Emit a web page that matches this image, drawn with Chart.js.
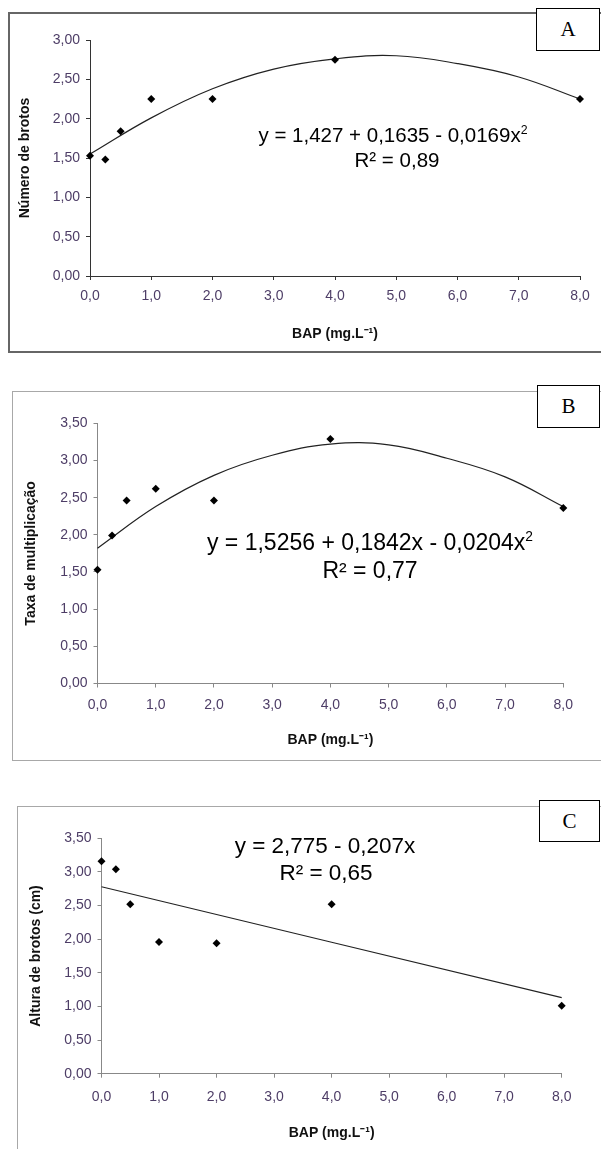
<!DOCTYPE html>
<html>
<head>
<meta charset="utf-8">
<script src="https://cdn.jsdelivr.net/npm/chart.js@4"></script>
<style>
body { margin:0; background:#fff; width:601px; height:1149px; overflow:hidden; position:relative; font-family:'Liberation Sans', Arial, sans-serif; }
.panel { position:absolute; border-style:solid; box-sizing:border-box; }
canvas { position:absolute; left:0; }
.tag { position:absolute; background:#fff; border:1.5px solid #000; box-sizing:border-box; font-family:'Liberation Serif','Times New Roman',serif; font-size:21px; display:flex; align-items:center; justify-content:center; }
.eq { position:absolute; transform:translate(-50%,-50%); white-space:nowrap; color:#000; line-height:1; }
.eq sup { font-size:0.6em; vertical-align:0.6em; line-height:0; }
</style>
</head>
<body>

<div class="panel" style="left:8px; top:12px; width:650px; height:341px; border-width:2px; border-color:#666;"></div>
<div class="panel" style="left:12px; top:391px; width:650px; height:370px; border-width:1.5px; border-color:#a8a8a8;"></div>
<div class="panel" style="left:17px; top:806px; width:650px; height:400px; border-width:1.5px; border-color:#a8a8a8;"></div>

<canvas id="chart-a"></canvas>
<canvas id="chart-b"></canvas>
<canvas id="chart-c"></canvas>

<div class="eq" style="left:393px; top:135px; font-size:20.5px;">y = 1,427 + 0,1635 - 0,0169x<sup>2</sup></div>
<div class="eq" style="left:397px; top:160px; font-size:20.5px;">R² = 0,89</div>
<div class="eq" style="left:370px; top:542px; font-size:23px;">y = 1,5256 + 0,1842x - 0,0204x<sup>2</sup></div>
<div class="eq" style="left:370px; top:570px; font-size:23px;">R² = 0,77</div>
<div class="eq" style="left:325px; top:846px; font-size:22.5px;">y = 2,775 - 0,207x</div>
<div class="eq" style="left:326px; top:873px; font-size:22.5px;">R² = 0,65</div>

<div class="tag" style="left:536px; top:8px; width:64px; height:43px;">A</div>
<div class="tag" style="left:537px; top:385px; width:63px; height:43px;">B</div>
<div class="tag" style="left:539px; top:800px; width:61px; height:42px;">C</div>

<script>
// doses de BAP (mg/L)
const bapDoses = [0, 0.25, 0.5, 1, 2, 4, 8];
const numeroBrotos = [1.53, 1.48, 1.84, 2.25, 2.25, 2.75, 2.25];
const taxaMultiplicacao = [1.53, 1.99, 2.46, 2.62, 2.46, 3.29, 2.36];
const alturaBrotos = [3.16, 3.04, 2.52, 1.96, 1.94, 2.52, 1.01];

// linhas de tendencia
const curvaDoses = [0, 1, 2, 3, 4, 5, 6, 7, 8];
const curvaNumero = [1.55, 2.01, 2.38, 2.63, 2.76, 2.80, 2.70, 2.53, 2.25];
const curvaTaxa = [1.82, 2.38, 2.80, 3.07, 3.22, 3.21, 3.03, 2.78, 2.38];
const retaDoses = [0, 8];
const retaAltura = [2.78, 1.13];

const xTickLabels = ['0,0', '1,0', '2,0', '3,0', '4,0', '5,0', '6,0', '7,0', '8,0'];
const yTickLabels = ['0,00', '0,50', '1,00', '1,50', '2,00', '2,50', '3,00', '3,50'];

const FONT = "'Liberation Sans', Arial, sans-serif";
const TICK_COLOR = '#4d3d66';
Chart.defaults.font.family = FONT;

function makeChart(id, g) {
    let canvas = document.getElementById(id);
    canvas.style.top = g.top + 'px';
    canvas.width = 601;
    canvas.height = g.height;

    let lh = 14 * 1.2;
    let padLeft = g.yTitleX - lh / 2 - 5;
    let padBottom = g.height - (g.xTitleY - g.top + lh / 2 + 2);
    let plotTop = g.plot[2] - g.top;
    let plotBottom = g.plot[3] - g.top;

    new Chart(canvas.getContext('2d'), {
        type: 'scatter',
        data: {
            datasets: [
                {
                    data: bapDoses.map((x, i) => ({ x: x, y: g.ys[i] })),
                    pointStyle: 'rectRot',
                    pointRadius: 4,
                    pointHoverRadius: 4,
                    backgroundColor: '#000',
                    borderWidth: 0,
                    clip: false
                },
                {
                    type: 'line',
                    data: g.cx.map((x, i) => ({ x: x, y: g.cy[i] })),
                    borderColor: '#222',
                    borderWidth: 1.2,
                    pointRadius: 0,
                    tension: 0.4,
                    fill: false,
                    clip: false
                }
            ]
        },
        options: {
            responsive: false,
            animation: false,
            devicePixelRatio: 1,
            plugins: { legend: { display: false }, tooltip: { enabled: false } },
            layout: { padding: { left: padLeft, top: plotTop, right: 601 - g.plot[1], bottom: padBottom } },
            scales: {
                x: {
                    type: 'linear', min: 0, max: 8,
                    ticks: { stepSize: 1, padding: g.xLabelPad, color: TICK_COLOR, font: { size: 14 },
                             callback: (v, i) => xTickLabels[i], maxRotation: 0, autoSkip: false },
                    grid: { drawOnChartArea: false, tickLength: 4, color: g.axisColor },
                    border: { color: g.axisColor, width: 1 },
                    title: { display: true, text: 'BAP (mg.L⁻¹)', color: '#111',
                             font: { size: 14, weight: 'bold' }, padding: { top: 0, bottom: 2 } },
                    afterFit: s => { s.height = (g.height - padBottom) - plotBottom; }
                },
                y: {
                    min: 0, max: g.yMax,
                    ticks: { stepSize: 0.5, padding: 6, color: TICK_COLOR, font: { size: 14 },
                             callback: (v, i) => yTickLabels[i] },
                    grid: { drawOnChartArea: false, tickLength: 4, color: g.axisColor },
                    border: { color: g.axisColor, width: 1 },
                    title: { display: true, text: g.yTitle, color: '#111',
                             font: { size: 14, weight: 'bold' }, padding: { top: 5, bottom: 0 } },
                    afterFit: s => { s.width = g.plot[0] - padLeft; }
                }
            }
        }
    });
}

makeChart('chart-a', {
    top: 0, height: 360, plot: [90, 580, 40, 276],
    yTitleX: 25, xTitleY: 334, xLabelPad: 8, yMax: 3,
    yTitle: 'Número de brotos', axisColor: '#333',
    ys: numeroBrotos, cx: curvaDoses, cy: curvaNumero
});

makeChart('chart-b', {
    top: 370, height: 400, plot: [97.5, 563.3, 423.3, 683.5],
    yTitleX: 31, xTitleY: 740, xLabelPad: 9, yMax: 3.5,
    yTitle: 'Taxa de multiplicação', axisColor: '#888',
    ys: taxaMultiplicacao, cx: curvaDoses, cy: curvaTaxa
});

makeChart('chart-c', {
    top: 790, height: 359, plot: [101.5, 561.7, 838.3, 1073.7],
    yTitleX: 36, xTitleY: 1133, xLabelPad: 11, yMax: 3.5,
    yTitle: 'Altura de brotos (cm)', axisColor: '#888',
    ys: alturaBrotos, cx: retaDoses, cy: retaAltura
});
</script>
</body>
</html>
